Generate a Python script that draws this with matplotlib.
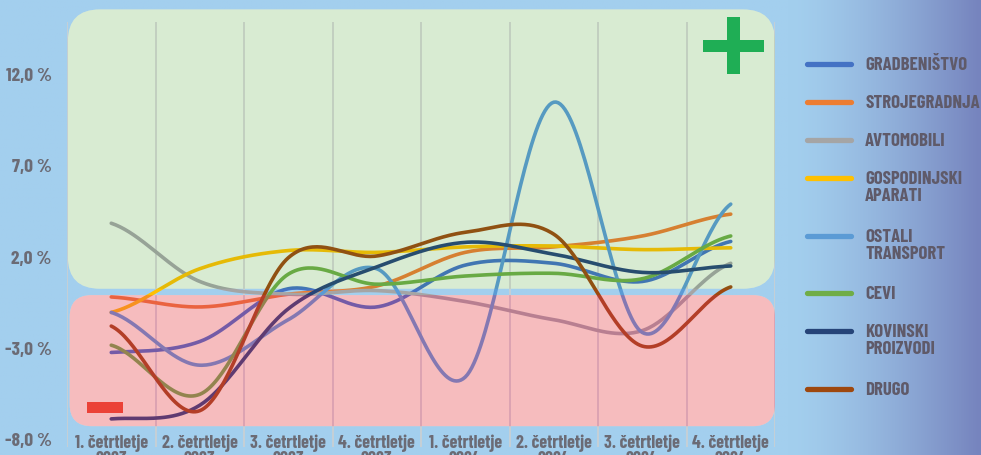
import numpy as np
import matplotlib
matplotlib.use("Agg")
import matplotlib.pyplot as plt
from matplotlib.patches import FancyBboxPatch, Rectangle
from matplotlib.lines import Line2D
from matplotlib.transforms import Affine2D

plt.rcParams['font.family'] = ['Barlow Condensed', 'DejaVu Sans']

# ---------------- data ----------------
categories = ["1. četrtletje\n2023", "2. četrtletje\n2023", "3. četrtletje\n2023", "4. četrtletje\n2023",
              "1. četrtletje\n2024", "2. četrtletje\n2024", "3. četrtletje\n2024", "4. četrtletje\n2024"]

gradbenistvo = [-3.3, -2.7, 0.2, -0.8, 1.5, 1.6, 0.6, 2.8]
strojegradnja = [-0.25, -0.8, -0.1, 0.35, 2.2, 2.5, 3.1, 4.3]
avtomobili = [3.8, 0.6, -0.1, 0.1, -0.5, -1.5, -2.1, 1.6]
gospodinjski_aparati = [-1.1, 1.3, 2.3, 2.2, 2.5, 2.55, 2.35, 2.45]
ostali_transport = [-1.1, -4.0, -1.5, 1.3, -4.65, 10.45, -2.2, 4.85]
cevi = [-2.9, -5.6, 1.0, 0.45, 0.9, 1.05, 0.75, 3.1]
kovinski_proizvodi = [-6.95, -6.2, -0.9, 1.4, 2.75, 2.1, 1.1, 1.45]
drugo = [-1.85, -6.5, 1.9, 2.0, 3.3, 3.2, -2.95, 0.3]

series_names = ["GRADBENIŠTVO", "STROJEGRADNJA", "AVTOMOBILI", "GOSPODINJSKI\nAPARATI",
                "OSTALI\nTRANSPORT", "CEVI", "KOVINSKI\nPROIZVODI", "DRUGO"]
series_values = [gradbenistvo, strojegradnja, avtomobili, gospodinjski_aparati,
                 ostali_transport, cevi, kovinski_proizvodi, drugo]
series_colors = ["#4472c4", "#ed7d31", "#a5a5a5", "#ffc000",
                 "#5b9bd5", "#70ad47", "#264478", "#9e480e"]

y_ticks = [-8, -3, 2, 7, 12]
y_tick_labels = ["-8,0 %", "-3,0 %", "2,0 %", "7,0 %", "12,0 %"]

# ---------------- helpers ----------------
def smooth(y, n=40):
    """Catmull-Rom (Excel-like) smoothing through the points."""
    y = np.asarray(y, float)
    N = len(y)
    m = np.empty(N)
    m[1:-1] = (y[2:] - y[:-2]) / 2.0
    m[0] = (y[1] - y[0]) / 2.0
    m[-1] = (y[-1] - y[-2]) / 2.0
    xs, ys = [], []
    for i in range(N - 1):
        t = np.linspace(0, 1, n, endpoint=(i == N - 2))
        h00 = 2 * t**3 - 3 * t**2 + 1
        h10 = t**3 - 2 * t**2 + t
        h01 = -2 * t**3 + 3 * t**2
        h11 = t**3 - t**2
        xs.append(i + t)
        ys.append(h00 * y[i] + h10 * m[i] + h01 * y[i + 1] + h11 * m[i + 1])
    return np.concatenate(xs), np.concatenate(ys)

W, H = 981, 456
fig = plt.figure(figsize=(W / 100, H / 100), dpi=100)

# background gradient
bg = fig.add_axes([0, 0, 1, 1])
bg.set_axis_off()
gx = np.linspace(0, W, 400)
gy = np.linspace(0, H, 100)
GX, GY = np.meshgrid(gx, gy)
t = np.clip((GX - 790) / 190.0, 0, 1) ** 1.4
base = np.array([163, 207, 238]) / 255.0
purp = np.array([118, 132, 190]) / 255.0
img = base[None, None, :] * (1 - t[..., None]) + purp[None, None, :] * t[..., None]
bg.imshow(img, extent=[0, 1, 0, 1], aspect='auto', origin='upper')
bg.set_xlim(0, 1); bg.set_ylim(0, 1)

# main axes
ax_left, ax_right, ax_top, ax_bottom = 67, 775, 9, 450
ax = fig.add_axes([ax_left / W, 1 - ax_bottom / H, (ax_right - ax_left) / W, (ax_bottom - ax_top) / H])
ax.patch.set_alpha(0)
n = len(categories)
ymin, ymax = -8.604, 15.626
ax.set_xlim(-0.5, n - 0.5)
ax.set_ylim(ymin, ymax)
for s in ax.spines.values():
    s.set_visible(False)

px_per_x = (ax_right - ax_left) / n
px_per_y = (ax_bottom - ax_top) / (ymax - ymin)
asp = px_per_x / px_per_y

# coloured zones (base + overlay for tint)
green_over = np.array([50, 150, 50]) / 255.0
a_g = 0.12
green_target = np.array([217, 235, 211]) / 255.0
green_base = np.clip((green_target - a_g * green_over) / (1 - a_g), 0, 1)
pink_over = np.array([230, 40, 100]) / 255.0
a_p = 0.30
pink_target = np.array([246, 189, 190]) / 255.0
pink_base = np.clip((pink_target - a_p * pink_over) / (1 - a_p), 0, 1)

def zone(x0, y0, x1, y1, r_px, color, alpha, z):
    p = FancyBboxPatch((x0, y0), x1 - x0, y1 - y0,
                       boxstyle=f"round,pad=0,rounding_size={r_px / px_per_x}",
                       mutation_aspect=asp, facecolor=color, edgecolor='none',
                       alpha=alpha, zorder=z)
    ax.add_patch(p)

g_box = (-0.49, 0.2, n - 0.5, 15.55)
p_box = (-0.47, -7.35, n - 0.5, -0.15)
zone(*g_box, 32, green_base, 1, 1)
zone(*p_box, 22, pink_base, 1, 1)
zone(*g_box, 32, green_over, a_g, 4)
zone(*p_box, 22, pink_over, a_p, 4)

# vertical grid lines
for xb in np.arange(-0.5, n + 0.5, 1.0):
    ax.plot([xb, xb], [-8.5, 14.85], color='#cfcfcf', lw=1.3, alpha=0.85, zorder=2,
            solid_capstyle='butt')

# series
for vals, col in zip(series_values, series_colors):
    xs, ys = smooth(vals)
    ax.plot(xs, ys, color=col, lw=2.6, zorder=3, solid_capstyle='round')

# axes ticks
ax.set_yticks(y_ticks)
ax.set_yticklabels(y_tick_labels)
ax.set_xticks(np.arange(n))
ax.set_xticklabels(categories, linespacing=0.9)
ax.tick_params(axis='y', length=0, pad=11, labelsize=14, labelcolor='#6b6b75')
ax.tick_params(axis='x', length=0, pad=-11, labelsize=13, labelcolor='#6b6b75')
for lab in ax.get_xticklabels() + ax.get_yticklabels():
    lab.set_fontweight('bold')

# plus / minus signs (pixel space)
ptrans = Affine2D().scale(1 / W, -1 / H).translate(0, 1) + fig.transFigure
fig.add_artist(Rectangle((703, 41), 61, 12, transform=ptrans, facecolor='#1fae55', edgecolor='none', zorder=10))
fig.add_artist(Rectangle((727, 18), 13, 57, transform=ptrans, facecolor='#1fae55', edgecolor='none', zorder=10))
fig.add_artist(Rectangle((87, 403), 36, 11, transform=ptrans, facecolor='#eb4137', edgecolor='none', zorder=10))

# legend (manual)
leg_y = [65, 103, 141, 179, 237, 294, 332, 390]
for name, col, yy in zip(series_names, series_colors, leg_y):
    fig.add_artist(Line2D([807, 851], [yy, yy], transform=ptrans, color=col, lw=3.8,
                          solid_capstyle='round', zorder=10))
    fig.text(865 / W, 1 - (yy - 8) / H, name, transform=fig.transFigure, ha='left', va='top',
             fontsize=13.5, fontweight='bold', color='#5f5a69', linespacing=1.0)

fig.savefig("out.png", dpi=100)
